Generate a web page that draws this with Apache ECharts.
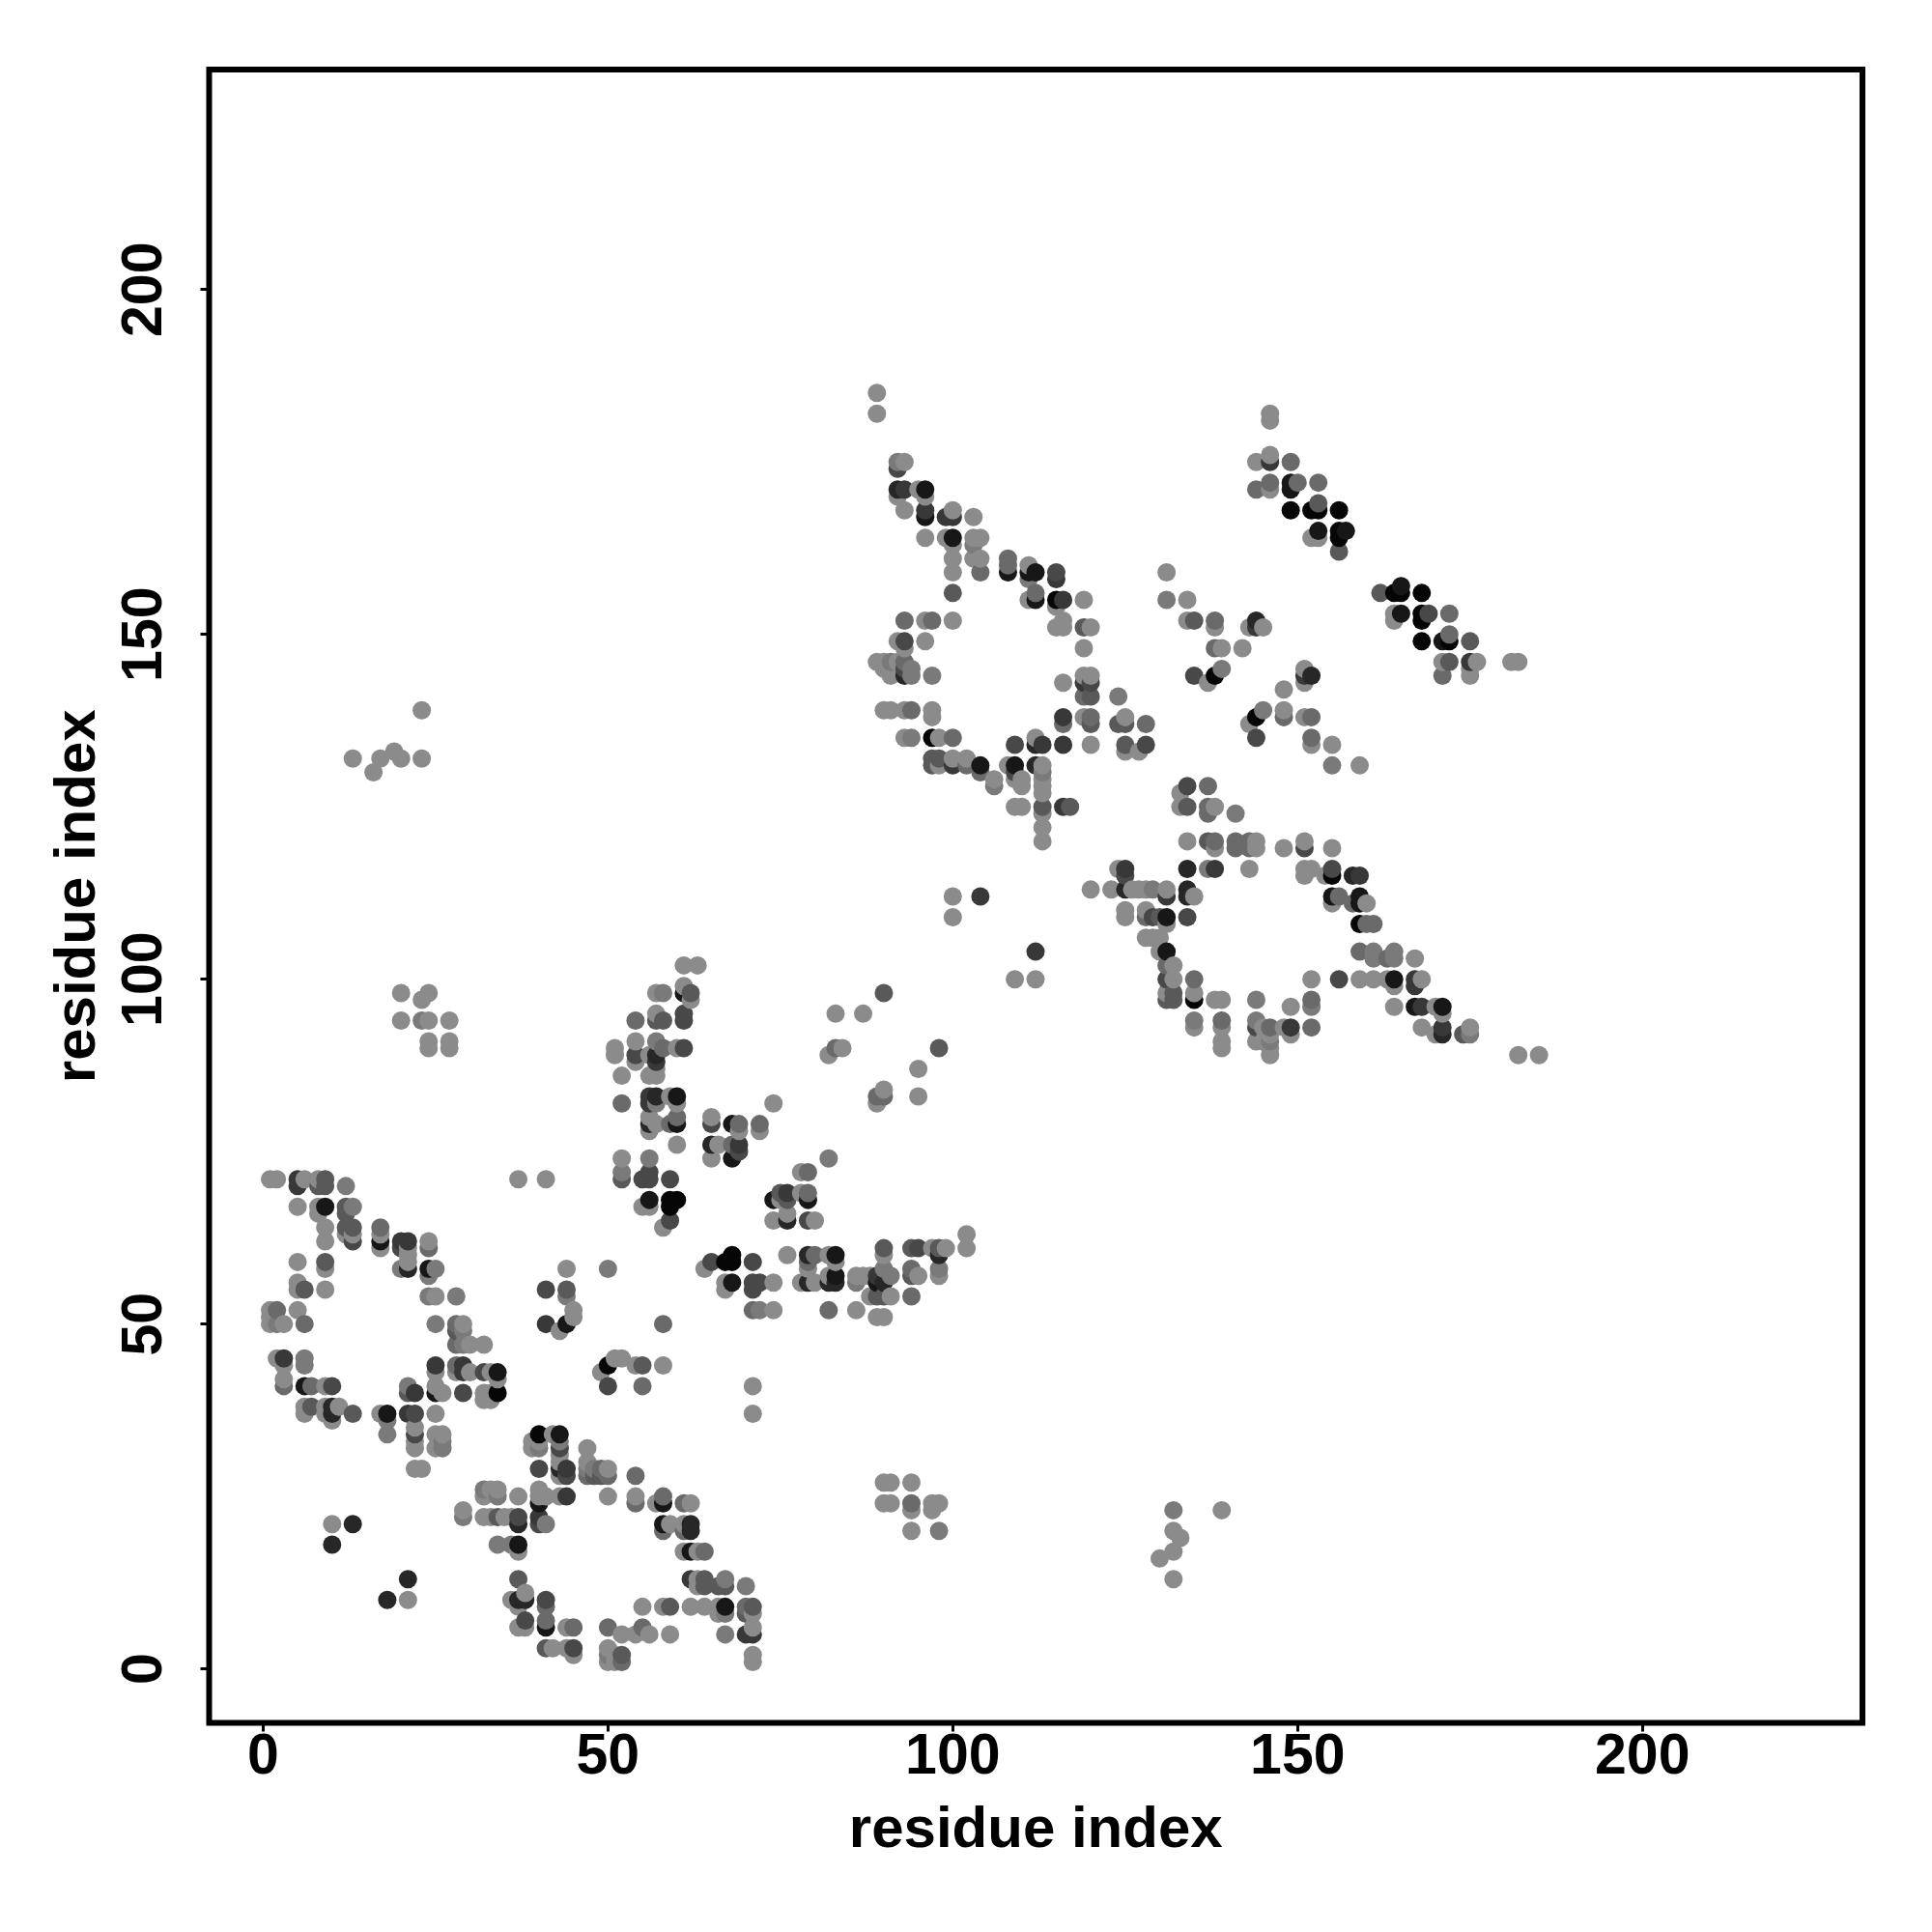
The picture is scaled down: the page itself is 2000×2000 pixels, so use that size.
<!DOCTYPE html>
<html><head><meta charset="utf-8">
<style>html,body{margin:0;padding:0;background:#fff}#c{width:2000px;height:2000px}</style>
<script src="https://cdn.jsdelivr.net/npm/echarts@6/dist/echarts.min.js"></script>
</head><body><div id="c"></div>
<script>
// each contact: [residue x, residue y, shade digit (0 = black ... 8 = light grey)]
const tickValues = [0, 50, 100, 150, 200];
const axisTitle = 'residue index';
const helixBlockA = [[1,71,8],[2,71,8],[5,71,3],[5,70,3],[6,71,8],[8,71,8],[9,71,5],[9,70,5],[8,70,5],[12,70,7],[5,67,8],[8,67,8],[8,66,8],[9,67,1],[12,67,5],[12,66,5],[13,67,7],[9,64,8],[12,64,5],[13,64,5],[13,63,8],[13,62,4],[12,63,8],[9,62,8],[17,64,6],[17,63,8],[17,62,1],[17,61,8],[20,62,3],[20,61,4],[21,62,3],[21,61,8],[21,60,8],[21,59,8],[21,58,2],[20,58,7],[24,62,8],[24,61,6],[24,58,1],[25,58,7],[24,57,7],[24,54,7],[25,54,8],[28,54,7],[5,59,8],[9,59,5],[9,58,8],[5,56,8],[5,55,8],[6,55,5],[9,55,8],[1,52,8],[2,52,6],[1,51,8],[1,50,8],[2,50,7],[3,50,8],[5,52,8],[6,50,6],[25,50,7],[28,50,6],[28,49,5],[29,50,8],[29,49,7],[28,47,6],[29,47,7],[30,47,8],[32,47,8],[25,44,3],[25,43,8],[28,44,6],[29,44,3],[28,43,8],[29,43,3],[30,43,8],[32,43,4],[33,43,8],[34,43,1],[34,42,8],[34,40,0],[33,40,8],[33,39,8],[32,40,8],[32,39,8],[29,40,4],[26,40,8],[25,41,8],[25,40,1],[22,40,3],[21,41,7],[21,40,5]];
const helixBlockB = [[2,45,8],[3,45,3],[3,44,8],[6,45,7],[6,44,7],[3,42,8],[3,41,6],[6,41,1],[7,41,6],[9,41,8],[10,41,4],[6,38,8],[6,37,8],[7,38,5],[9,38,8],[9,37,8],[10,38,2],[10,37,2],[10,36,8],[11,38,8],[13,37,5],[17,37,8],[18,37,1],[18,36,7],[18,34,7],[21,37,3],[22,37,4],[22,35,8],[22,34,4],[22,33,8],[22,32,8],[25,37,8],[25,34,8],[26,34,8],[26,33,7],[26,32,7],[25,32,8],[22,29,8],[23,29,8]];
const sheetBlockC = [[50,44,0],[52,45,8],[51,45,8],[49,43,8],[54,44,8],[55,44,5],[58,44,8],[50,41,4],[55,41,6],[71,41,8],[71,37,8],[40,34,0],[42,34,8],[43,34,1],[39,33,8],[39,32,8],[40,33,8],[40,32,7],[43,33,7],[43,32,4],[43,31,8],[43,30,8],[43,29,2],[44,29,3],[44,28,4],[43,28,8],[40,29,4],[47,32,8],[47,30,8],[47,29,7],[47,28,6],[48,29,7],[48,28,5],[49,29,6],[49,28,5],[50,29,8],[50,28,6],[54,28,6],[50,25,8],[54,25,8],[54,24,6],[44,25,3],[43,25,8],[41,25,8],[40,26,8],[40,25,8],[40,24,1],[58,25,6],[58,24,1],[57,24,8],[61,24,6],[62,24,8],[58,21,1],[58,20,6],[59,21,8],[61,21,8],[61,20,6],[62,21,2],[62,20,2],[61,17,8],[62,17,1],[63,17,8],[64,17,6]];
const sheetBlockD = [[32,26,7],[33,26,8],[34,26,8],[32,25,8],[34,25,7],[37,25,8],[29,23,8],[29,22,7],[32,22,8],[33,22,8],[34,22,5],[35,22,8],[36,22,8],[37,22,4],[37,21,2],[40,22,3],[40,21,4],[41,21,7],[34,18,7],[36,18,7],[37,18,1],[37,17,8],[37,13,5],[36,10,8],[37,10,2],[38,10,2],[38,11,8],[37,9,8],[41,10,4],[41,9,6],[41,7,6],[41,6,1],[38,7,4],[37,6,8],[38,6,8],[44,6,8],[45,6,6],[41,3,5],[42,3,8],[44,3,8],[45,3,4],[45,2,8],[50,6,6],[52,5,8],[55,6,6],[54,5,8],[56,5,8],[59,5,8],[50,3,8],[50,2,7],[50,1,8],[51,1,8],[51,2,8],[52,2,5],[52,1,6],[55,9,8],[58,9,8],[59,9,5],[62,9,8],[64,9,8],[66,9,8],[66,8,8],[67,9,1],[67,8,7],[62,13,3],[63,13,8],[63,12,8],[64,13,5],[64,12,5],[66,12,5],[67,13,7],[67,12,5],[70,12,7],[70,9,6],[70,8,5],[71,9,5],[71,8,8],[71,6,8],[71,5,3],[70,5,3],[67,5,7],[71,2,8],[71,1,8]];
const middleBlockE = [[61,102,8],[63,102,8],[61,99,8],[61,98,1],[62,98,5],[62,97,8],[57,98,8],[58,98,7],[54,94,6],[57,95,8],[57,94,5],[58,94,5],[61,95,4],[61,94,4],[54,91,8],[57,91,7],[51,90,8],[58,90,6],[60,90,8],[61,90,4],[51,89,8],[54,89,4],[57,89,2],[56,89,8],[54,88,8],[57,88,3],[52,86,8],[56,86,8],[57,86,8],[57,87,8],[52,82,6],[56,83,3],[56,82,3],[57,83,2],[57,82,7],[59,83,8],[60,83,1],[60,82,8],[56,80,8],[56,79,2],[56,78,8],[57,79,8],[59,79,6],[60,80,6],[60,79,1],[60,76,8],[65,80,8],[65,79,4],[68,79,1],[69,79,6],[69,78,8],[72,79,6],[72,78,8],[74,82,8],[65,76,2],[66,76,8],[68,76,6],[69,76,3],[69,75,4],[65,74,8],[68,74,1],[52,74,8],[56,74,7],[52,72,7],[52,71,5],[55,71,4],[56,72,4],[56,71,4],[59,71,4],[56,68,1],[55,67,8],[56,67,8],[59,68,0],[60,68,0],[59,67,0],[59,65,4],[58,64,8]];
const middleBlockF = [[82,74,7],[78,72,8],[79,72,6],[75,69,5],[76,69,3],[78,69,8],[79,69,6],[74,68,1],[75,68,8],[76,68,5],[79,68,1],[74,65,8],[76,66,8],[76,65,2],[79,65,4],[80,65,8],[76,60,8],[79,60,2],[80,60,6],[82,60,8],[83,60,1],[83,59,8],[79,59,6],[71,59,4],[65,59,4],[68,60,0],[68,59,0],[67,59,0],[64,58,8],[50,58,7],[68,56,1],[67,56,8],[67,55,8],[71,56,4],[71,55,4],[72,56,4],[74,56,8],[71,52,6],[72,52,7],[74,52,8],[82,52,6],[86,52,8],[58,50,6],[78,56,8],[79,58,8],[79,56,2],[80,56,8],[82,56,2],[82,57,8],[83,57,1],[83,56,2],[86,56,7],[86,57,8],[87,57,8],[88,57,8],[89,57,3],[89,56,1],[90,58,7],[90,56,2],[91,57,7],[90,61,5],[90,60,8],[94,61,5],[95,61,4],[97,61,8],[98,61,5],[98,60,2],[99,61,8],[102,63,8],[102,61,8],[94,58,6],[94,57,5],[95,57,8],[98,58,7],[98,57,8],[88,54,8],[89,54,5],[90,54,5],[91,54,8],[94,54,6],[89,51,8],[90,51,8]];
const scatterBlockG = [[90,98,5],[83,95,8],[87,95,8],[84,90,8],[83,90,6],[82,89,8],[98,90,5],[95,87,8],[95,83,8],[90,84,8],[89,83,6],[90,83,6],[89,82,8],[10,21,8],[13,21,2],[10,18,2],[21,13,2],[21,10,8],[18,10,2],[13,132,8],[16,130,8],[17,132,8],[19,133,8],[20,132,8],[23,139,8],[23,132,8],[20,98,8],[20,94,8],[23,94,7],[24,98,8],[23,97,8],[24,94,8],[27,94,8],[24,91,8],[24,90,8],[27,91,8],[27,90,8],[90,27,8],[91,27,8],[90,24,8],[91,24,8],[94,27,8],[94,24,6],[94,23,8],[94,20,8],[97,24,8],[98,24,8],[97,23,8],[98,20,7],[132,23,7],[132,20,8],[133,19,8],[132,17,8],[130,16,8],[132,13,8],[139,23,8],[100,112,8],[100,109,8],[104,112,3],[112,104,3],[109,100,8],[112,100,8],[37,71,8],[41,71,8],[41,55,4],[44,55,5],[44,54,7],[45,52,8],[44,50,1],[43,49,8],[41,50,3],[44,58,8],[45,51,8]];
const upperBlockH = [[92,175,7],[93,175,8],[92,174,4],[92,171,2],[93,171,3],[92,170,8],[95,171,8],[96,171,1],[96,170,8],[93,168,8],[96,168,3],[96,167,1],[99,167,3],[100,168,8],[100,167,3],[103,167,8],[96,164,8],[99,164,8],[100,164,1],[100,163,8],[103,164,8],[103,163,7],[104,164,8],[100,161,8],[103,161,8],[104,161,8],[100,159,8],[104,159,6],[100,156,5],[108,161,6],[108,160,6],[108,159,1],[111,160,8],[111,159,1],[111,158,7],[112,159,1],[115,159,4],[115,158,3],[112,156,6],[112,155,1],[111,155,8],[115,155,0],[116,155,3],[119,155,8],[115,154,8],[116,152,8],[115,151,8],[116,151,8],[119,151,5],[120,151,8],[119,148,8]];
const upperBlockI = [[93,152,6],[96,152,8],[97,152,6],[100,152,8],[92,149,8],[93,149,4],[93,148,8],[96,149,8],[89,146,8],[90,146,8],[91,146,7],[92,146,8],[93,146,6],[90,145,8],[91,145,8],[93,145,4],[94,145,7],[91,144,8],[93,144,2],[94,144,7],[97,144,7],[90,139,8],[91,139,8],[93,139,8],[94,139,6],[97,139,8],[97,138,8],[93,135,8],[94,135,7],[97,135,0],[98,135,8],[100,135,6],[97,132,5],[97,131,5],[98,132,5],[98,131,8],[100,132,8],[100,131,3],[102,132,8],[102,131,6],[104,131,1],[104,130,6],[106,129,8],[106,128,7],[108,131,8],[109,131,1],[109,130,4],[109,129,8],[110,129,8],[110,128,8],[112,131,2],[113,131,8],[113,130,7],[113,129,8],[109,134,4],[112,135,8],[112,134,2],[113,134,3],[116,134,3],[120,134,8],[116,138,3],[116,137,6],[119,138,8],[120,138,6],[120,137,5],[124,137,5],[125,138,8],[125,137,5],[128,137,6],[128,134,4],[125,133,8],[127,133,8],[125,134,5],[116,143,8],[119,144,8],[120,144,8],[119,143,3],[120,143,4],[119,141,6],[120,141,5],[124,141,7],[113,128,8],[113,127,8],[113,125,5],[113,124,8],[113,122,8],[113,120,8],[116,125,3],[117,125,5],[109,125,8],[110,125,8],[89,182,8],[89,185,8]];
const lowerRightJ = [[134,128,4],[137,128,6],[133,127,8],[133,125,8],[134,125,5],[137,125,6],[137,124,6],[138,125,8],[141,124,7],[134,120,8],[137,120,5],[138,120,6],[138,119,8],[141,120,6],[141,119,6],[143,120,6],[143,119,6],[144,120,8],[144,119,8],[148,119,8],[151,120,8],[151,119,4],[155,119,8],[134,116,2],[137,116,7],[138,116,3],[143,116,8],[151,116,8],[151,115,8],[152,116,8],[154,115,8],[155,116,4],[155,115,0],[158,115,2],[159,115,3],[125,113,2],[126,113,8],[127,113,8],[128,113,8],[129,113,7],[131,113,8],[131,112,3],[134,113,2],[134,112,2],[135,112,8],[120,113,8],[123,113,8],[125,116,3],[125,115,4],[124,116,8],[155,112,1],[156,112,6],[155,111,8],[159,112,1],[159,111,1],[158,111,6],[160,111,8],[159,108,0],[160,108,6],[161,108,6]];
const lowerRightK = [[125,110,8],[125,109,8],[128,110,8],[128,109,6],[129,109,4],[130,109,5],[131,109,1],[131,108,8],[134,109,4],[128,106,8],[129,106,8],[130,106,8],[131,104,1],[130,104,8],[131,102,6],[132,102,8],[131,100,4],[132,100,8],[135,100,6],[131,98,8],[131,97,5],[132,98,5],[132,97,5],[135,98,8],[135,97,0],[138,97,8],[139,97,8],[144,97,7],[135,94,7],[135,93,8],[139,94,6],[139,93,8],[139,91,8],[139,90,8],[144,94,7],[144,93,4],[144,91,8],[145,93,8],[145,91,8],[146,93,6],[146,92,8],[146,91,7],[146,90,8],[146,89,8],[148,93,8],[149,93,3],[149,92,8],[152,93,6],[149,96,8],[152,97,6],[152,96,7],[152,100,8],[156,100,4],[159,100,8],[161,100,8],[163,100,8],[164,100,1],[164,99,8],[164,96,8],[159,104,6],[161,104,7],[161,103,7],[163,103,6],[164,104,7],[164,103,7],[167,103,8],[167,100,3],[167,99,3],[168,100,8],[167,96,1],[168,96,3],[170,96,8],[171,96,1],[171,95,8],[168,93,8],[171,93,3],[171,92,2],[170,92,8],[174,92,5],[175,93,8],[175,92,7],[182,89,8],[185,89,8]];
const upperRightL = [[146,182,8],[146,181,8],[146,176,8],[146,175,3],[144,175,8],[149,175,6],[146,172,6],[146,171,8],[144,171,6],[149,172,1],[149,171,1],[150,172,6],[153,172,6],[149,168,0],[152,168,0],[153,169,5],[153,168,0],[156,168,0],[153,165,1],[152,164,8],[153,164,8],[156,165,0],[156,164,0],[157,165,1],[156,162,5],[162,156,5],[164,156,0],[165,157,1],[165,156,0],[168,156,0],[164,153,8],[164,152,8],[165,153,1],[168,153,0],[168,152,0],[169,153,4],[172,153,6],[168,149,0],[171,149,1],[172,150,6],[172,149,0],[175,149,5],[171,146,8],[172,146,5],[175,146,3],[176,146,8],[175,145,8],[171,144,6],[175,144,8],[181,146,8],[182,146,8]];
const centralM = [[151,145,8],[151,144,3],[151,143,8],[152,144,2],[148,142,8],[145,151,8],[144,152,2],[144,151,3],[143,151,8],[131,159,8],[131,155,7],[134,155,8],[134,152,8],[135,152,5],[138,152,6],[138,151,8],[138,148,6],[139,148,8],[142,148,8],[135,144,4],[138,144,0],[139,145,7],[137,143,8],[148,139,8],[148,138,6],[145,139,7],[144,138,0],[143,137,8],[144,135,4],[151,138,8],[152,138,6],[152,135,6],[152,134,8],[155,134,8],[155,131,7],[159,131,8]];

const contactBlocks = [helixBlockA, helixBlockB, sheetBlockC, sheetBlockD, middleBlockE, middleBlockF, scatterBlockG, upperBlockH, upperBlockI, lowerRightJ, lowerRightK, upperRightL, centralM];
const contacts = contactBlocks.flat().sort((a, b) => a[0] - b[0] || a[1] - b[1]);
const shade = d => { const g = Math.round(6 + d * 16.6); return `rgb(${g},${g},${g})`; };

const labelFont = { color: '#000', fontFamily: '"Liberation Sans", Arial, sans-serif', fontWeight: 'bold', fontSize: 59 };
const nameFont = Object.assign({}, labelFont, { fontSize: 60 });
const chart = echarts.init(document.getElementById('c'), null, { renderer: 'canvas' });
const axisBase = {
  type: 'value', min: -7.83, max: 231.9, name: axisTitle, nameLocation: 'middle',
  nameTextStyle: nameFont, splitLine: { show: false },
  axisLine: { show: false, onZero: false },
  axisTick: { show: true, length: 9, inside: false, customValues: tickValues, lineStyle: { color: '#000', width: 3 } }
};
chart.setOption({
  animation: false,
  backgroundColor: '#fff',
  grid: { left: 216.5, right: 72, top: 72, bottom: 216.5, show: true, borderColor: '#000', borderWidth: 6, backgroundColor: '#fff' },
  xAxis: Object.assign({}, axisBase, { nameGap: 82, axisLabel: Object.assign({}, labelFont, { margin: 7, customValues: tickValues }) }),
  yAxis: Object.assign({}, axisBase, { nameGap: 105, axisLabel: Object.assign({}, labelFont, { rotate: 90, margin: 36, customValues: tickValues, align: 'center', verticalAlign: 'bottom' }) }),
  series: [{
    type: 'scatter', symbol: 'circle', symbolSize: 19, clip: false, large: false,
    data: contacts.map(c => ({ value: [c[0], c[1]], itemStyle: { color: shade(c[2]), opacity: 1 } }))
  }]
});
</script></body></html>
